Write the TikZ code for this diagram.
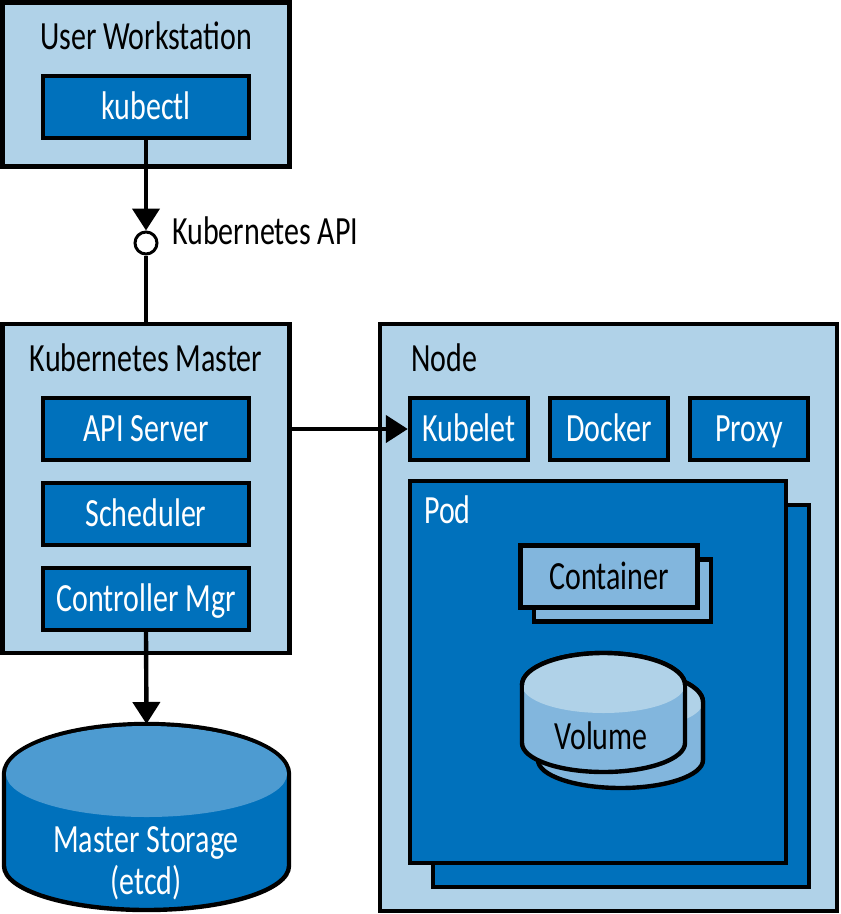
\documentclass[tikz,border=0pt]{standalone}
\usepackage{fontspec}
\setmainfont[FakeStretch=0.75]{Carlito}
\usetikzlibrary{arrows.meta}

\definecolor{darkblue}{RGB}{0,113,188}
\definecolor{midblue}{RGB}{130,182,221}
\definecolor{paleblue}{RGB}{176,210,232}
\definecolor{topblue}{RGB}{77,155,209}

\tikzset{every picture/.style={line width=3.3pt}}
\tikzset{
	panel/.style={draw,fill=paleblue,inner sep=0pt},
	service/.style={draw,fill=darkblue,text=white,inner sep=0pt,minimum height=46.5pt,font=\mylabel,text height=21.6pt,text depth=2.4pt},
	wide/.style={service,minimum width=154.5pt},
	narrow/.style={service,minimum width=88.5pt},
	small/.style={draw,fill=midblue,inner sep=0pt,minimum width=132.75pt,minimum height=46.5pt},
	caption/.style={inner sep=0pt,font=\mylabel,text height=21.6pt,text depth=2.4pt},
	link/.style={line width=3.3pt,-{Triangle[width=20.25pt,length=16.5pt]}},
	plain/.style={line width=3.3pt},
}
\newcommand{\mylabel}{\fontsize{30pt}{31.5pt}\selectfont}

\begin{document}
\begin{tikzpicture}[x=0.75pt,y=0.75pt,yscale=-1,xscale=1]
	\useasboundingbox (0,0) rectangle (840,914);

	%Panels
	\node (workstation) [panel,minimum width=215.25pt,minimum height=123pt] at (146,84.5) {};
	\node (master) [panel,minimum width=215.25pt,minimum height=246.75pt] at (146,488.5) {};
	\node (nodebox) [panel,minimum width=342.75pt,minimum height=440.25pt] at (608.5,617.5) {};

	%User Workstation
	\node (wstitle) [caption] at (146,37) {User Workstation};
	\node (kubectl) [wide] at (146,107) {kubectl};

	%Kubernetes Master
	\node (mastertitle) [caption] at (146,359) {Kubernetes Master};
	\node (apiserver) [wide] at (146,429) {API Server};
	\node (scheduler) [wide] at (146,514) {Scheduler};
	\node (controller) [wide] at (146,599) {Controller Mgr};

	%Node
	\node (nodetitle) [caption,anchor=west] at (409,359) {Node};
	\node (kubelet) [narrow] at (469,429) {Kubelet};
	\node (docker) [narrow] at (609,429) {Docker};
	\node (proxy) [narrow] at (749,429) {Proxy};

	%Pod
	\node (podback) [draw,fill=darkblue,inner sep=0pt,minimum width=282pt,minimum height=286.5pt] at (621,696) {};
	\node (pod) [draw,fill=darkblue,inner sep=0pt,minimum width=282pt,minimum height=286.5pt] at (598,672) {};
	\node (podtitle) [caption,text=white,anchor=west] at (422,511) {Pod};

	%Container
	\node (containerback) [small] at (622.5,590.5) {};
	\node (container) [small,font=\mylabel,text height=21.6pt,text depth=2.4pt] at (609,576.5) {Container};

	%Volume back
	\draw [fill=midblue] (538,702) -- (538,760) arc[start angle=180,end angle=0,x radius=82.5,y radius=28] -- (703,702) arc[start angle=0,end angle=-180,x radius=82.5,y radius=32] -- cycle;
	\fill [paleblue] (538,702) arc[start angle=180,end angle=360,x radius=82.5,y radius=32] arc[start angle=0,end angle=180,x radius=82.5,y radius=28] -- cycle;
	\draw (538,702) arc[start angle=180,end angle=360,x radius=82.5,y radius=32] -- (703,760);
	%Volume front
	\draw [fill=midblue] (522,685) -- (522,743) arc[start angle=180,end angle=0,x radius=81.5,y radius=29] -- (685,685) arc[start angle=0,end angle=-180,x radius=81.5,y radius=32] -- cycle;
	\fill [paleblue] (522,685) arc[start angle=180,end angle=360,x radius=81.5,y radius=32] arc[start angle=0,end angle=180,x radius=81.5,y radius=28] -- cycle;
	\draw (522,685) arc[start angle=180,end angle=360,x radius=81.5,y radius=32];
	\draw (522,685) -- (522,743) (685,685) -- (685,743);
	\node (volume) [caption] at (601,737) {Volume};

	%Master Storage
	\draw [fill=darkblue] (4,774) -- (4,866) arc[start angle=180,end angle=0,x radius=142.5,y radius=44] -- (289,774) arc[start angle=0,end angle=-180,x radius=142.5,y radius=50] -- cycle;
	\fill [topblue] (6,774) arc[start angle=180,end angle=360,x radius=140.5,y radius=48] arc[start angle=0,end angle=180,x radius=140.5,y radius=43] -- cycle;
	\coordinate (storagetop) at (146.5,724);
	\node (storage) [caption,text=white,align=center] at (146,882) {Master Storage\\(etcd)};

	%Connectors
	\node (apiport) [draw,fill=white,circle,inner sep=0pt,minimum size=16.5pt,line width=2.25pt] at (146,243) {};
	\node (apilabel) [caption,anchor=west] at (170,232) {Kubernetes API};
	\draw [link] (kubectl.south) -- (apiport.north);
	\draw [plain] (apiport.south) -- (master.north -| apiport);
	\draw [link] (master.east |- apiserver) -- (kubelet.west);
	\draw [link] (controller.south) -- (storagetop);

\end{tikzpicture}
\end{document}
